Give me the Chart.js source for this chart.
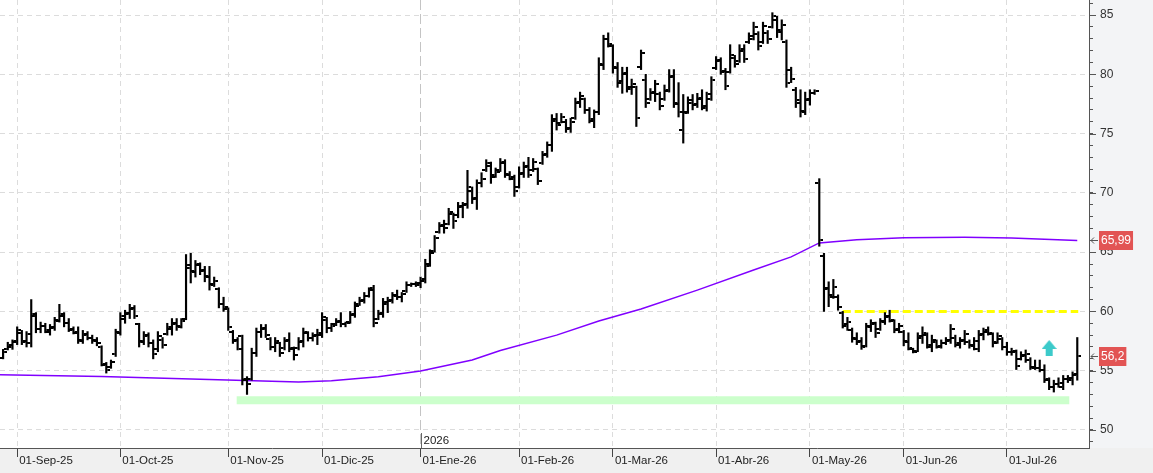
<!DOCTYPE html>
<html>
<head>
<meta charset="utf-8">
<script src="https://cdn.jsdelivr.net/npm/chart.js@4.4.0/dist/chart.umd.min.js"></script>
<style>
  html, body { margin: 0; padding: 0; background: #fff; }
  #wrap { width: 1153px; height: 473px; }
</style>
</head>
<body>
<div id="wrap"><canvas id="chart" width="1153" height="473"></canvas></div>
<script>
// daily OHLC, one entry per trading day (index 0 = 27-Aug-25)
const opens = [
  56.1, 56.8, 57.0, 57.4, 58.2, 57.4, 57.3, 59.6, 58.5, 58.8,
  58.3, 58.6, 59.3, 59.6, 59.0, 58.4, 58.2, 57.6, 58.0, 57.8,
  57.6, 57.0, 55.5, 55.3, 56.4, 58.3, 59.4, 59.8, 60.2, 58.9,
  57.5, 57.9, 57.3, 56.8, 57.6, 58.1, 58.5, 58.9, 58.8, 59.4,
  63.7, 63.4, 63.9, 63.4, 63.0, 62.3, 61.9, 60.6, 60.2, 58.3,
  57.5, 57.9, 54.2, 54.3, 56.5, 58.3, 58.5, 57.7, 57.0, 57.3,
  56.9, 57.5, 56.8, 56.9, 57.4, 58.2, 57.8, 57.9, 58.0, 59.3,
  58.6, 58.9, 59.1, 58.9, 59.1, 59.7, 60.6, 60.9, 61.3, 62.0,
  59.4, 59.8, 60.6, 60.9, 61.4, 61.2, 61.7, 62.2, 62.3, 62.2,
  62.6, 64.0, 65.1, 66.7, 67.2, 67.4, 68.2, 68.1, 68.8, 69.0,
  70.2, 69.5, 70.8, 71.9, 72.3, 71.5, 71.9, 72.5, 71.6, 71.2,
  70.5, 71.6, 72.2, 71.9, 72.0, 72.5, 73.2, 74.0, 76.1, 75.9,
  76.0, 75.4, 76.3, 77.6, 77.9, 77.0, 76.1, 76.8, 80.9, 83.0,
  82.4, 80.6, 79.3, 80.0, 78.8, 78.9, 80.6, 79.5, 77.9, 78.4,
  78.3, 77.9, 78.6, 79.8, 77.6, 75.3, 76.8, 77.6, 77.4, 77.9,
  77.2, 77.9, 80.5, 81.1, 80.2, 80.2, 81.4, 81.1, 82.0, 82.7,
  83.0, 83.4, 82.7, 83.5, 84.0, 84.6, 83.7, 82.7, 80.4, 78.7,
  77.8, 76.9, 77.8, 78.4, 70.8, 64.7, 61.9, 61.4, 61.2, 59.9,
  58.8, 58.4, 57.8, 57.4, 57.1, 58.8, 58.9, 58.5, 59.2, 59.5,
  59.2, 58.4, 58.3, 57.5, 56.8, 56.7, 57.8, 58.0, 57.0, 57.4,
  57.0, 57.3, 57.5, 57.8, 57.2, 57.5, 57.4, 57.2, 56.8, 58.0,
  58.3, 58.1, 57.4, 57.7, 57.0, 56.6, 56.6, 56.0, 56.2, 55.9,
  55.3, 55.2, 55.1, 54.2, 53.6, 53.9, 53.6, 54.3, 54.2, 54.6
];
const highs = [
  56.8, 57.4, 57.6, 58.7, 58.4, 58.3, 61.0, 59.9, 59.1, 59.0,
  58.9, 59.5, 60.6, 59.9, 59.4, 58.7, 58.7, 58.4, 58.3, 58.0,
  57.8, 57.1, 55.7, 55.9, 58.5, 59.9, 60.1, 60.6, 60.5, 59.0,
  58.3, 58.2, 57.6, 58.3, 57.8, 59.0, 59.4, 59.4, 59.4, 64.8,
  64.9, 64.3, 64.1, 63.8, 63.8, 62.9, 62.0, 61.2, 60.3, 58.4,
  57.8, 58.0, 54.5, 56.9, 58.6, 58.9, 58.9, 57.8, 57.8, 57.4,
  57.8, 58.2, 57.0, 57.8, 58.6, 58.3, 58.2, 58.5, 59.9, 59.5,
  59.0, 59.4, 59.9, 59.1, 60.0, 60.8, 61.2, 61.6, 62.0, 62.2,
  60.1, 61.1, 61.2, 61.6, 61.8, 61.6, 62.5, 62.4, 62.5, 62.9,
  64.4, 65.2, 66.4, 67.5, 67.7, 68.7, 68.3, 69.2, 69.2, 71.9,
  70.5, 71.1, 71.7, 72.8, 72.6, 72.1, 72.9, 72.8, 71.8, 71.5,
  72.2, 72.6, 73.0, 72.9, 72.1, 73.5, 74.3, 76.6, 76.7, 76.7,
  76.2, 76.3, 78.0, 78.5, 78.0, 77.2, 77.0, 81.4, 83.3, 83.5,
  82.5, 81.0, 80.6, 80.6, 79.6, 79.0, 82.05, 80.0, 78.8, 79.5,
  78.5, 79.1, 80.4, 80.4, 79.3, 78.3, 78.1, 78.3, 78.4, 78.7,
  78.5, 79.8, 81.5, 81.4, 80.5, 82.5, 81.6, 82.5, 82.5, 83.5,
  84.4, 83.6, 84.4, 83.7, 85.2, 84.9, 84.6, 82.9, 80.6, 78.9,
  78.7, 78.5, 78.7, 78.7, 71.2, 64.9, 62.5, 62.7, 61.4, 60.0,
  59.5, 58.6, 58.2, 57.8, 59.0, 59.3, 59.1, 59.4, 59.9, 60.1,
  59.3, 59.0, 58.4, 58.2, 56.9, 58.2, 58.7, 58.2, 58.0, 57.6,
  57.6, 57.8, 58.9, 58.0, 57.8, 58.4, 57.6, 57.8, 58.4, 58.6,
  58.7, 58.2, 58.2, 57.8, 57.4, 56.9, 56.75, 56.6, 56.75, 56.1,
  55.9, 55.9, 55.5, 54.4, 54.2, 54.4, 54.6, 54.6, 54.9, 57.8
];
const lows = [
  56.0, 56.75, 56.8, 57.2, 57.2, 57.0, 57.0, 58.2, 58.2, 58.2,
  58.0, 58.4, 59.1, 58.7, 58.3, 58.1, 57.3, 57.3, 57.6, 57.3,
  57.1, 55.4, 54.8, 55.2, 56.2, 58.0, 59.0, 59.4, 59.4, 57.0,
  57.2, 57.0, 56.0, 56.6, 56.9, 58.0, 58.0, 58.4, 58.6, 59.3,
  62.4, 62.9, 63.1, 62.5, 61.8, 62.1, 60.3, 60.0, 58.4, 57.3,
  56.75, 53.8, 53.0, 54.2, 56.2, 57.8, 57.8, 56.75, 56.6, 56.2,
  56.75, 56.6, 55.9, 56.75, 57.0, 57.5, 57.5, 57.2, 57.8, 58.2,
  58.3, 58.8, 58.7, 58.7, 59.0, 59.5, 60.5, 60.7, 61.2, 58.7,
  59.3, 59.5, 59.9, 60.7, 61.0, 60.8, 61.6, 62.1, 62.1, 62.0,
  62.4, 63.8, 65.0, 66.6, 66.6, 67.3, 67.0, 67.9, 67.9, 68.7,
  69.1, 68.6, 70.5, 71.8, 70.8, 71.3, 71.8, 71.3, 71.1, 69.7,
  70.4, 71.3, 71.3, 71.8, 70.7, 72.4, 73.0, 73.5, 75.3, 75.9,
  75.1, 75.1, 76.2, 77.2, 76.7, 75.9, 75.5, 76.6, 80.4, 82.3,
  80.1, 78.9, 78.4, 78.5, 78.3, 75.6, 80.4, 77.2, 77.8, 77.7,
  77.0, 77.8, 78.5, 77.2, 76.4, 74.2, 76.7, 77.0, 77.2, 77.0,
  76.9, 77.8, 80.4, 80.0, 78.7, 80.1, 80.6, 81.0, 81.0, 82.6,
  82.9, 82.05, 82.6, 82.6, 83.9, 83.1, 82.9, 78.9, 79.3, 77.2,
  76.4, 76.6, 77.4, 78.3, 65.5, 60.0, 60.4, 61.1, 60.1, 58.6,
  58.4, 57.4, 57.2, 56.8, 57.0, 58.3, 57.8, 58.4, 58.9, 59.1,
  58.2, 58.2, 57.1, 56.75, 56.5, 56.6, 57.3, 56.9, 56.6, 56.9,
  56.9, 57.2, 57.3, 57.0, 56.9, 57.2, 56.9, 56.75, 56.6, 57.6,
  58.0, 57.0, 57.3, 56.75, 56.3, 56.3, 55.1, 55.9, 55.7, 55.1,
  55.1, 54.9, 54.0, 53.4, 53.2, 53.6, 53.4, 54.0, 53.8, 54.2
];
const closes = [
  56.6, 57.2, 57.5, 58.4, 57.5, 58.1, 59.8, 58.5, 58.8, 58.4,
  58.7, 59.2, 59.8, 59.0, 58.5, 58.3, 57.5, 58.1, 57.8, 57.5,
  57.3, 55.6, 55.1, 55.7, 58.2, 59.6, 59.9, 60.3, 59.6, 57.4,
  58.0, 57.3, 56.4, 57.9, 57.2, 58.7, 59.0, 58.7, 59.2, 63.9,
  63.3, 64.0, 63.5, 62.9, 62.2, 62.6, 60.6, 60.4, 58.7, 57.6,
  56.8, 54.3, 53.9, 56.5, 58.3, 58.6, 58.0, 57.0, 57.5, 56.5,
  57.6, 56.9, 56.3, 57.5, 58.3, 57.8, 58.0, 58.2, 59.5, 58.6,
  58.8, 59.2, 58.9, 59.0, 59.8, 60.5, 61.0, 61.3, 61.8, 59.0,
  59.9, 60.8, 61.0, 61.3, 61.2, 61.5, 62.2, 62.3, 62.4, 62.7,
  63.8, 64.9, 66.2, 67.3, 67.0, 68.4, 67.6, 68.9, 69.1, 70.5,
  69.6, 70.8, 71.2, 72.5, 71.3, 71.8, 72.6, 71.5, 71.3, 70.2,
  71.7, 72.3, 71.5, 72.6, 71.0, 73.3, 74.0, 76.2, 75.7, 76.4,
  75.5, 76.0, 77.7, 78.2, 77.0, 76.2, 76.8, 80.8, 83.0, 82.6,
  80.5, 79.4, 80.1, 78.9, 79.2, 76.3, 81.8, 77.6, 78.5, 79.2,
  77.3, 78.7, 79.9, 77.5, 76.8, 76.7, 77.8, 77.5, 78.0, 77.3,
  78.3, 79.5, 81.2, 80.3, 79.0, 81.6, 80.9, 82.1, 81.3, 83.2,
  84.0, 82.4, 84.1, 83.0, 84.9, 83.6, 84.2, 79.3, 79.6, 77.6,
  76.8, 77.9, 78.4, 78.6, 66.0, 62.0, 61.2, 62.1, 60.4, 58.9,
  59.1, 57.7, 57.5, 57.0, 58.7, 59.0, 58.2, 59.1, 59.6, 59.3,
  58.5, 58.8, 57.4, 56.9, 56.6, 57.9, 58.2, 57.2, 57.6, 57.1,
  57.3, 57.6, 58.5, 57.3, 57.6, 58.1, 57.1, 57.5, 58.1, 58.4,
  58.2, 57.3, 57.9, 57.0, 56.6, 56.7, 55.4, 56.3, 56.4, 55.2,
  55.2, 55.1, 54.3, 53.6, 53.9, 54.0, 54.3, 54.4, 54.7, 56.2
];

// moving average, read at a few bar indexes
const maIdx  = [-1, 21, 42, 63, 70, 80, 89, 100, 106, 118, 127, 136, 148, 160, 168, 174, 182, 192, 205, 215, 229];
const maVals = [54.66, 54.51, 54.27, 54.05, 54.15, 54.5, 54.98, 55.9, 56.7, 58.0, 59.2, 60.2, 61.8, 63.5, 64.6, 65.78, 66.05, 66.22, 66.25, 66.2, 65.99];

// month ticks on the time axis
const monthIdx = [3, 25, 48, 68, 89, 110, 130, 152, 172, 192, 214];
const monthLabels = ['01-Sep-25', '01-Oct-25', '01-Nov-25', '01-Dic-25', '01-Ene-26', '01-Feb-26',
                     '01-Mar-26', '01-Abr-26', '01-May-26', '01-Jun-26', '01-Jul-26'];
const yearIdx = 89;
const yearLabel = '2026';
const yLabels = [50, 55, 60, 65, 70, 75, 80, 85];

// drawn levels
const supportX = [49.8, 227.3];
const supportY = 52.5;
const resistX = [179, 229.2];
const resistY = 60;
const arrowX = 223;
const arrowY = 56.92;
const markValues = [65.99, 56.2];
const markTexts = ['65,99', '56,2'];

const FONT = "'Liberation Sans', Arial, sans-serif";

function tickImage(side) {
  const c = document.createElement('canvas');
  c.width = 8; c.height = 2;
  const g = c.getContext('2d');
  g.fillStyle = '#000';
  if (side === 'left') g.fillRect(0, 0, 3, 2);
  else g.fillRect(5, 0, 3, 2);
  return c;
}

function arrowImage() {
  const c = document.createElement('canvas');
  c.width = 15; c.height = 16;
  const g = c.getContext('2d');
  g.fillStyle = '#3ccaca';
  g.beginPath();
  g.moveTo(7.5, 0); g.lineTo(15, 9); g.lineTo(0, 9); g.closePath();
  g.fill();
  g.fillRect(4, 9, 7, 7);
  return c;
}

const isMajor = v => yLabels.includes(Math.round(v)) && Math.abs(v - Math.round(v)) < 1e-6;

const chartPlugin = {
  id: 'panels',
  beforeDraw(chart) {
    const { ctx, chartArea: a, width, height } = chart;
    ctx.save();
    ctx.fillStyle = '#f0f0f0';
    ctx.fillRect(0, a.bottom, width, height - a.bottom);
    ctx.fillStyle = '#f3f4f6';
    ctx.fillRect(a.right, 0, width - a.right, a.bottom);
    ctx.fillStyle = '#ffffff';
    ctx.fillRect(a.left, a.top, a.right - a.left, a.bottom - a.top);
    ctx.restore();
  },
  afterDraw(chart) {
    const { ctx, chartArea: a, scales } = chart;
    ctx.save();
    // longer marks for the labelled price ticks
    ctx.strokeStyle = '#555';
    ctx.lineWidth = 1;
    ctx.beginPath();
    yLabels.forEach(v => {
      const y = Math.round(scales.y.getPixelForValue(v)) + 0.5;
      ctx.moveTo(a.right, y);
      ctx.lineTo(a.right + 7, y);
    });
    ctx.stroke();

    // year marker
    const yx = Math.round(scales.x.getPixelForValue(yearIdx)) + 0.5;
    ctx.strokeStyle = '#666';
    ctx.beginPath();
    ctx.moveTo(yx, a.bottom - 15);
    ctx.lineTo(yx, a.bottom);
    ctx.stroke();
    ctx.fillStyle = '#222';
    ctx.font = '11.5px ' + FONT;
    ctx.textBaseline = 'alphabetic';
    ctx.textAlign = 'left';
    ctx.fillText(yearLabel, yx + 2, a.bottom - 4);

    // last value boxes on the price axis
    ctx.font = '12px ' + FONT;
    markValues.forEach((v, i) => {
      const y = Math.round(scales.y.getPixelForValue(v));
      const w = ctx.measureText(markTexts[i]).width + 4;
      ctx.fillStyle = '#e25454';
      ctx.fillRect(a.right + 10, y - 9, w, 19);
      ctx.fillStyle = '#fff';
      ctx.textBaseline = 'middle';
      ctx.fillText(markTexts[i], a.right + 12, y + 1);
      ctx.strokeStyle = '#555';
      ctx.beginPath();
      ctx.moveTo(a.right + 2, y + 0.5); ctx.lineTo(a.right + 9, y + 0.5);
      ctx.moveTo(a.right + 5, y - 2.5); ctx.lineTo(a.right + 2, y + 0.5); ctx.lineTo(a.right + 5, y + 3.5);
      ctx.stroke();
    });
    ctx.restore();
  }
};

const ohlcBars = highs.map((h, i) => ({ x: i, y: [lows[i], h] }));
const openPts = opens.map((v, i) => ({ x: i, y: v }));
const closePts = closes.map((v, i) => ({ x: i, y: v }));
const maPts = maIdx.map((x, i) => ({ x: x, y: maVals[i] }));

new Chart(document.getElementById('chart'), {
  type: 'bar',
  data: {
    datasets: [
      {
        type: 'line', data: [{ x: arrowX, y: arrowY }], showLine: false,
        pointStyle: arrowImage(), pointRadius: 8, order: 0
      },
      {
        type: 'bar', data: ohlcBars, backgroundColor: '#000', borderWidth: 0,
        barThickness: 1.5, order: 1
      },
      {
        type: 'line', data: openPts, showLine: false,
        pointStyle: tickImage('left'), pointRadius: 2, order: 1
      },
      {
        type: 'line', data: closePts, showLine: false,
        pointStyle: tickImage('right'), pointRadius: 2, order: 1
      },
      {
        type: 'line', data: maPts, borderColor: '#8000ff', borderWidth: 1.5,
        pointRadius: 0, tension: 0, order: 2
      },
      {
        type: 'line', data: resistX.map(x => ({ x: x, y: resistY })), borderColor: '#ffff00',
        borderWidth: 3, borderDash: [8, 4], pointRadius: 0, order: 3
      },
      {
        type: 'line', data: supportX.map(x => ({ x: x, y: supportY })), borderColor: '#ccffcc',
        borderWidth: 8, pointRadius: 0, borderCapStyle: 'butt', order: 4
      }
    ]
  },
  options: {
    responsive: false,
    animation: false,
    events: [],
    layout: { padding: 0, autoPadding: false },
    plugins: { legend: { display: false }, tooltip: { enabled: false } },
    scales: {
      x: {
        type: 'linear',
        offset: false,
        min: -0.66,
        max: 231.5,
        afterBuildTicks: scale => { scale.ticks = monthIdx.map(v => ({ value: v })); },
        afterFit: scale => { scale.height = 25; scale.paddingLeft = 0; scale.paddingRight = 0; },
        grid: {
          offset: false,
          color: ctx => (ctx.tick && ctx.tick.value === yearIdx) ? '#c4c4c4' : '#dcdcdc',
          lineWidth: 1,
          tickLength: 9,
          tickColor: '#444'
        },
        border: {
          display: true, color: '#555', width: 1,
          dash: ctx => (ctx.tick && ctx.tick.value === yearIdx) ? [10, 4] : [5, 4]
        },
        ticks: {
          autoSkip: false,
          maxRotation: 0,
          align: 'start',
          labelOffset: 2,
          padding: -3,
          color: '#222',
          font: { family: FONT, size: 11.5 },
          callback: v => {
            const k = monthIdx.indexOf(v);
            return k >= 0 ? monthLabels[k] : null;
          }
        }
      },
      y: {
        type: 'linear',
        position: 'right',
        min: 48.48,
        max: 86.27,
        afterFit: scale => { scale.width = 64; scale.paddingTop = 0; scale.paddingBottom = 0; },
        grid: {
          color: ctx => (ctx.tick && isMajor(ctx.tick.value)) ? '#dcdcdc' : 'rgba(0,0,0,0)',
          tickColor: '#555',
          tickLength: 4
        },
        border: { display: true, color: '#555', width: 1, dash: [5, 4] },
        ticks: {
          stepSize: 1,
          includeBounds: false,
          autoSkip: false,
          padding: 7,
          color: '#333',
          font: { family: FONT, size: 12 },
          callback: v => isMajor(v) ? String(Math.round(v)) : ''
        }
      }
    }
  },
  plugins: [chartPlugin]
});
</script>
</body>
</html>
